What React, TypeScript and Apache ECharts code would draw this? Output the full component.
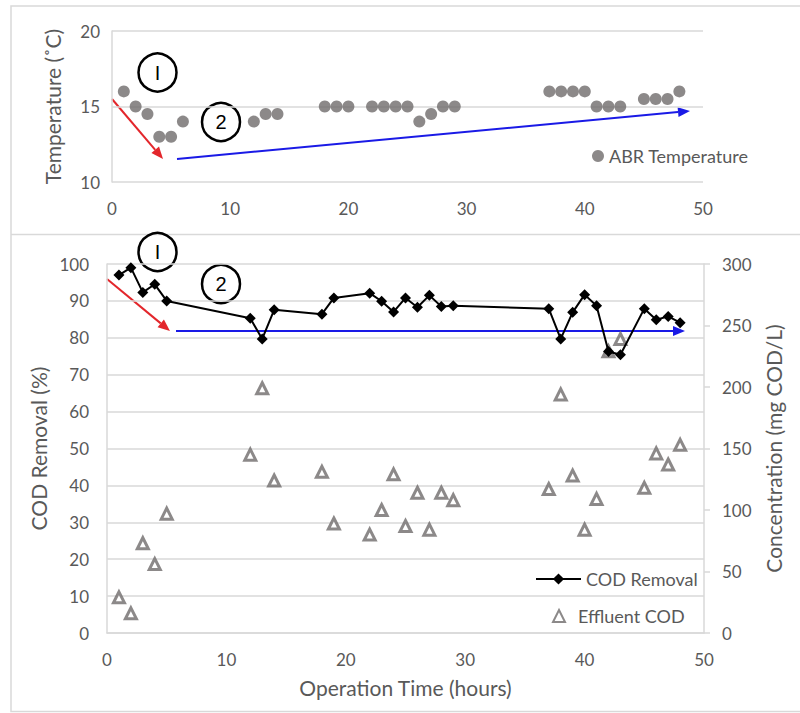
import React, { useEffect, useRef } from "react";
import * as echarts from "echarts";

// Top panel: ABR temperature
const tempHours = [1, 2, 3, 4, 5, 6, 12, 13, 14, 18, 19, 20, 22, 23, 24, 25, 26, 27, 28, 29, 37, 38, 39, 40, 41, 42, 43, 45, 46, 47, 48];
const tempValues = [16, 15, 14.5, 13, 13, 14, 14, 14.5, 14.5, 15, 15, 15, 15, 15, 15, 15, 14, 14.5, 15, 15, 16, 16, 16, 16, 15, 15, 15, 15.5, 15.5, 15.5, 16];

// Bottom panel: COD removal (%) and effluent COD (mg COD/L)
const codHours = [1, 2, 3, 4, 5, 12, 13, 14, 18, 19, 22, 23, 24, 25, 26, 27, 28, 29, 37, 38, 39, 40, 41, 42, 43, 45, 46, 47, 48];
const codRemoval = [97, 99, 92.3, 94.5, 90, 85.3, 79.7, 87.6, 86.4, 90.8, 92.1, 89.9, 87, 90.8, 88.3, 91.5, 88.5, 88.7, 87.9, 79.7, 86.9, 91.7, 88.7, 76.3, 75.4, 87.9, 84.9, 85.8, 84.1];
const effluentCOD = [29, 16, 73, 56, 97, 145, 199, 124, 131, 89, 80, 100, 129, 87, 114, 84, 114, 108, 117, 194, 128, 84, 109, 229, 239, 118, 146, 137, 153];

const TEXT = "#595959";
const GRID = "#d9d9d9";
const FONT = "Lato";

function arrow(x1: number, y1: number, x2: number, y2: number, color: string) {
  const dx = x2 - x1;
  const dy = y2 - y1;
  const len = Math.sqrt(dx * dx + dy * dy);
  const ux = dx / len;
  const uy = dy / len;
  const hl = 12;
  const hw = 5;
  const bx = x2 - ux * hl;
  const by = y2 - uy * hl;
  return {
    type: "group",
    z: 10,
    children: [
      { type: "line", shape: { x1, y1, x2: bx, y2: by }, style: { stroke: color, lineWidth: 2 } },
      {
        type: "polygon",
        shape: { points: [[x2, y2], [bx - uy * hw, by + ux * hw], [bx + uy * hw, by - ux * hw]] },
        style: { fill: color },
      },
    ],
  };
}

function marker(cx: number, cy: number, label: string) {
  return {
    type: "group",
    z: 10,
    children: [
      { type: "circle", shape: { cx, cy, r: 19 }, style: { fill: "none", stroke: "#000", lineWidth: 2.5 } },
      {
        type: "text",
        x: cx,
        y: cy,
        style: { text: label, fill: "#000", font: '20px "Liberation Sans"', align: "center", verticalAlign: "middle" },
      },
    ],
  };
}

export default function App() {
  const ref = useRef<HTMLDivElement>(null);
  useEffect(() => {
    if (!ref.current) return;
    const chart = echarts.init(ref.current, undefined, { renderer: "svg" });
    const labelStyle = { color: TEXT, fontSize: 17, fontFamily: FONT };
    const legendText = { color: TEXT, fontSize: 18, fontFamily: FONT };
    const nameStyle = { color: TEXT, fontSize: 21, fontFamily: FONT };
    chart.setOption({
      animation: false,
      textStyle: { fontFamily: FONT, color: TEXT },
      grid: [
        { left: 112, right: 97, top: 31, height: 151 },
        { left: 107, right: 96, top: 264, height: 369 },
      ],
      xAxis: [
        {
          gridIndex: 0, type: "value", min: 0, max: 50, interval: 10,
          axisLine: { show: false }, axisTick: { show: false }, splitLine: { show: false },
          axisLabel: { ...labelStyle, margin: 18 },
        },
        {
          gridIndex: 1, type: "value", min: 0, max: 50, interval: 10,
          axisLine: { show: true, onZero: false, lineStyle: { color: GRID, width: 1.5 } },
          axisTick: { show: false }, splitLine: { show: false },
          axisLabel: { ...labelStyle, margin: 18 },
          name: "Operation Time (hours)", nameLocation: "middle", nameGap: 44, nameTextStyle: nameStyle,
        },
      ],
      yAxis: [
        {
          gridIndex: 0, type: "value", min: 10, max: 20, interval: 5,
          axisLine: { show: true, lineStyle: { color: GRID, width: 1.5 } }, axisTick: { show: false },
          splitLine: { show: true, lineStyle: { color: GRID, width: 1.5 } },
          axisLabel: { ...labelStyle, margin: 12 },
          name: "Temperature (˚C)", nameLocation: "middle", nameGap: 49, nameTextStyle: nameStyle,
        },
        {
          gridIndex: 1, type: "value", min: 0, max: 100, interval: 10,
          axisLine: { show: true, lineStyle: { color: GRID, width: 1.5 } }, axisTick: { show: false },
          splitLine: { show: true, lineStyle: { color: GRID, width: 1.5 } },
          axisLabel: { ...labelStyle, margin: 18 },
          name: "COD Removal (%)", nameLocation: "middle", nameGap: 56, nameTextStyle: nameStyle,
        },
        {
          gridIndex: 1, type: "value", position: "right", min: 0, max: 300, interval: 50,
          axisLine: { show: true, lineStyle: { color: GRID, width: 1.5 } },
          axisTick: { show: true, length: 6, lineStyle: { color: GRID, width: 1.5 } },
          splitLine: { show: false },
          axisLabel: { ...labelStyle, margin: 18 },
          name: "Concentration (mg COD/L)", nameLocation: "middle", nameGap: 59, nameTextStyle: nameStyle,
        },
      ],
      legend: [
        {
          data: ["ABR Temperature"], left: 587, top: 142, itemWidth: 12, itemHeight: 12,
          textStyle: { ...legendText }, itemGap: 6,
        },
        {
          data: ["COD Removal"], left: 530, top: 565,
          itemWidth: 45, itemHeight: 14, textStyle: { ...legendText },
        },
        {
          data: ["Effluent COD"], left: 547, top: 602,
          itemWidth: 12, itemHeight: 12, textStyle: { ...legendText, padding: [0, 0, 0, 8] },
        },
      ],
      series: [
        {
          type: "scatter", name: "ABR Temperature", xAxisIndex: 0, yAxisIndex: 0,
          data: tempHours.map((h, i) => [h, tempValues[i]]),
          symbol: "circle", symbolSize: 12, itemStyle: { color: "#6f6b6b" },
        },
        {
          type: "scatter", name: "Effluent COD", xAxisIndex: 1, yAxisIndex: 2,
          data: codHours.map((h, i) => [h, effluentCOD[i]]),
          symbol: "triangle", symbolSize: 11, z: 2,
          itemStyle: { color: "#ffffff", borderColor: "#6f6b6b", borderWidth: 3 },
        },
        {
          type: "line", name: "COD Removal", xAxisIndex: 1, yAxisIndex: 1,
          data: codHours.map((h, i) => [h, codRemoval[i]]),
          symbol: "diamond", symbolSize: 11, z: 3,
          lineStyle: { color: "#000", width: 2 }, itemStyle: { color: "#000" },
        },
      ],
      graphic: [
        { type: "rect", shape: { x: 11, y: 6, width: 800, height: 705.5 }, style: { fill: "none", stroke: GRID, lineWidth: 1.5 }, z: 0 },
        { type: "line", shape: { x1: 11, y1: 234.5, x2: 800, y2: 234.5 }, style: { stroke: GRID, lineWidth: 1.5 }, z: 0 },
        marker(157.5, 72.5, "I"),
        marker(221, 122, "2"),
        arrow(112, 99, 163, 159, "#e3262b"),
        arrow(177, 159, 690, 111, "#1a1ae6"),
        marker(157.5, 252, "I"),
        marker(221, 284, "2"),
        arrow(107, 279, 170, 331, "#e3262b"),
        arrow(176, 331, 685, 331, "#1a1ae6"),
      ],
    });
    return () => chart.dispose();
  }, []);
  return <div ref={ref} style={{ position: "fixed", left: 0, top: 0, width: 800, height: 713, background: "#fff" }} />;
}
